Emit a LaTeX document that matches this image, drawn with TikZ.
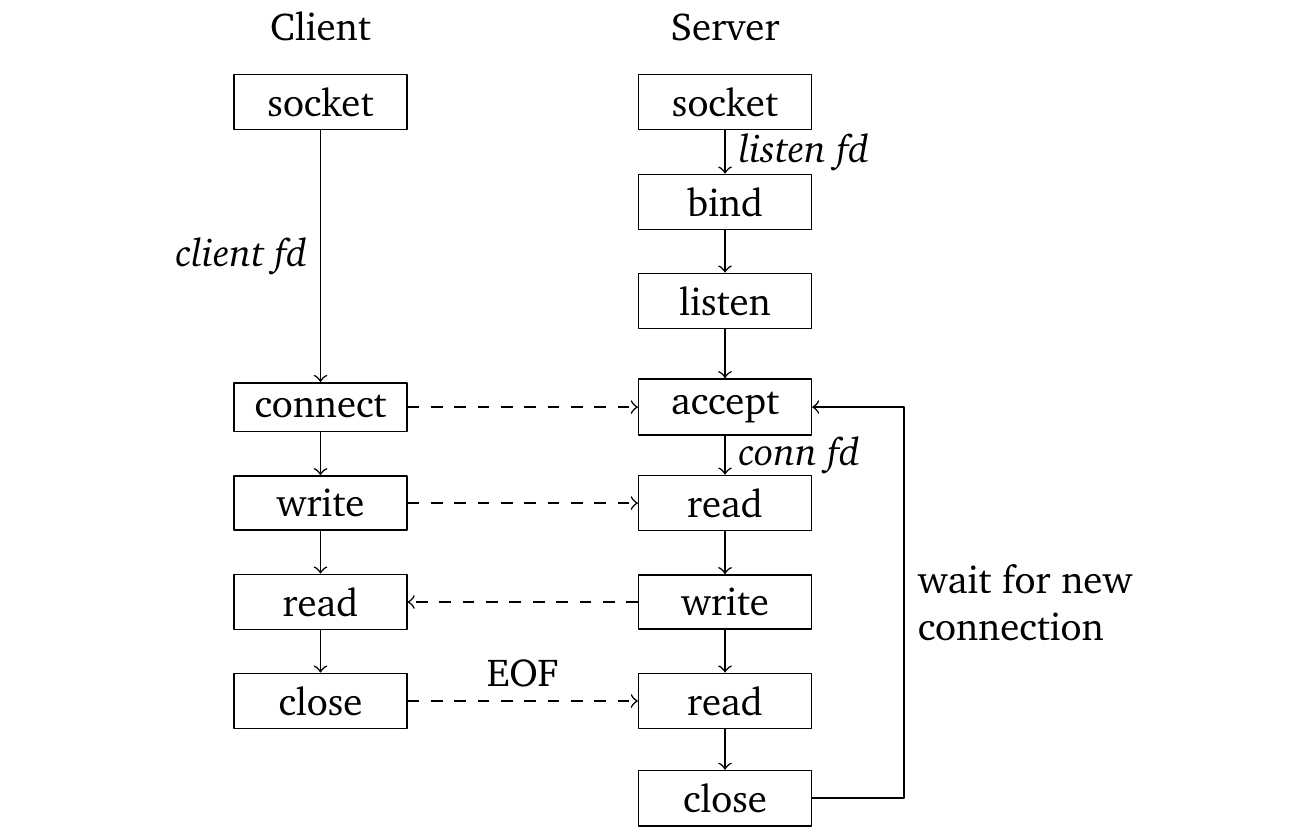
\documentclass[tikz,border=0pt]{standalone}
\usepackage[T1]{fontenc}
\usepackage{charter}
\begin{document}
\begin{tikzpicture}[line join=round,
		box/.style={draw,minimum width=1.56cm},
		msg/.style={->,dashed}]
	\useasboundingbox (0,0) rectangle (11.725,-7.471);
	\node[anchor=base] (chead) at (2.895,-0.368) {Client};
	\node[anchor=base] (shead) at (6.549,-0.368) {Server};
	% client side
	\node[box] (csocket) at (2.895,-0.921) {socket};
	\node[box] (cconnect) at (2.895,-3.677) {connect};
	\node[box] (cwrite) at (2.895,-4.544) {write};
	\node[box] (cread) at (2.895,-5.438) {read};
	\node[box] (cclose) at (2.895,-6.332) {close};
	% server side
	\node[box] (ssocket) at (6.549,-0.921) {socket};
	\node[box] (sbind) at (6.549,-1.825) {bind};
	\node[box] (slisten) at (6.549,-2.719) {listen};
	\node[box] (saccept) at (6.549,-3.677) {accept};
	\node[box] (sread) at (6.549,-4.544) {read};
	\node[box] (swrite) at (6.549,-5.438) {write};
	\node[box] (sreof) at (6.549,-6.332) {read};
	\node[box] (sclose) at (6.549,-7.21) {close};
	\coordinate (back) at (8.166,-7.21);
	\draw[->] (csocket) -- node[left]{\textit{client fd}} (cconnect);
	\draw[->] (cconnect) -- (cwrite);
	\draw[->] (cwrite) -- (cread);
	\draw[->] (cread) -- (cclose);
	\draw[->] (ssocket) -- node[right]{\textit{listen fd}} (sbind);
	\draw[->] (sbind) -- (slisten);
	\draw[->] (slisten) -- (saccept);
	\draw[->] (saccept) -- node[right]{\textit{conn fd}} (sread);
	\draw[->] (sread) -- (swrite);
	\draw[->] (swrite) -- (sreof);
	\draw[->] (sreof) -- (sclose);
	% messages
	\draw[msg] (cconnect) -- (saccept);
	\draw[msg] (cwrite) -- (sread);
	\draw[msg] (swrite) -- (cread);
	\draw[msg] (cclose) -- node[above]{EOF} (sreof);
	% back to accept
	\draw[->] (sclose.east) -- (back) |- node[pos=0.25,right,align=left]{wait for new\\connection} (saccept.east);
\end{tikzpicture}
\end{document}
